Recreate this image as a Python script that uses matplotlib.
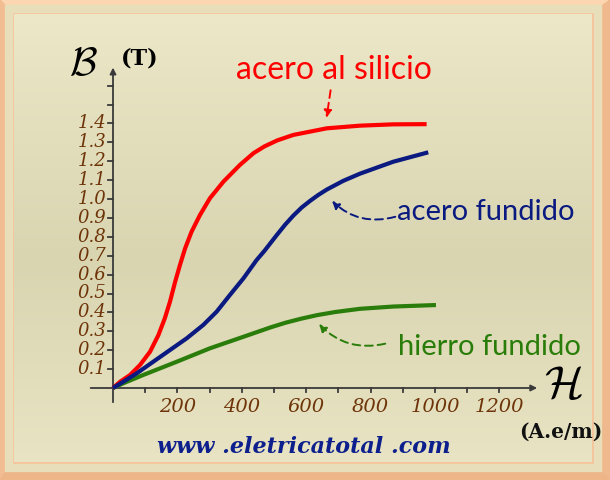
import numpy as np
import matplotlib
matplotlib.use("Agg")
import matplotlib.pyplot as plt
from matplotlib.patches import Rectangle, Polygon

plt.rcParams['mathtext.fontset'] = 'cm'

# ---- data ----
h_silicio = [0, 22, 53, 84, 115, 141, 161, 177, 193, 208, 224, 244, 270, 301, 343, 394,
             436, 470, 510, 560, 664, 767, 870, 974]
b_silicio = [0, 0.033, 0.069, 0.122, 0.192, 0.28, 0.369, 0.457, 0.562, 0.651, 0.739, 0.827,
             0.915, 1.004, 1.092, 1.18, 1.242, 1.278, 1.31, 1.339, 1.374, 1.388, 1.395, 1.396]

h_acero = [0, 32, 74, 125, 177, 229, 280, 322, 363, 405, 446, 470, 508, 535, 560, 586, 612,
           638, 664, 715, 767, 870, 979]
b_acero = [0, 0.033, 0.078, 0.139, 0.201, 0.263, 0.333, 0.404, 0.492, 0.58, 0.677, 0.725,
           0.808, 0.865, 0.912, 0.955, 0.99, 1.022, 1.05, 1.096, 1.134, 1.197, 1.247]

h_hierro = [0, 32, 94, 198, 301, 405, 488, 535, 585, 635, 690, 767, 870, 1003]
b_hierro = [0, 0.025, 0.069, 0.139, 0.21, 0.271, 0.32, 0.345, 0.367, 0.386, 0.402, 0.419,
            0.431, 0.439]

y_ticks = [0.1, 0.2, 0.3, 0.4, 0.5, 0.6, 0.7, 0.8, 0.9, 1.0, 1.1, 1.2, 1.3, 1.4]
y_extra = [1.5, 1.6]
x_ticks = list(range(100, 1300, 100))
x_labels = [200, 400, 600, 800, 1000, 1200]

fig = plt.figure(figsize=(6.1, 4.8), dpi=100)

# ---- background frame ----
bg = fig.add_axes([0, 0, 1, 1])
bg.set_xlim(0, 610)
bg.set_ylim(480, 0)
bg.axis('off')
bg.add_patch(Rectangle((0, 0), 610, 480, color='#f6c49b', zorder=0))
bg.add_patch(Polygon([(0, 0), (610, 0), (598, 9), (9, 9)], color='#fbd6b0', zorder=1))
bg.add_patch(Polygon([(0, 0), (9, 9), (9, 468), (0, 480)], color='#f3bd93', zorder=1))
bg.add_patch(Polygon([(610, 0), (610, 480), (598, 468), (598, 9)], color='#f0b98d', zorder=1))
bg.add_patch(Polygon([(0, 480), (9, 468), (598, 468), (610, 480)], color='#eeb589', zorder=1))
grad = np.linspace(0, 1, 200)[:, None]
grad = 1 - np.abs(grad - 0.55) * 0.9
bg.imshow(grad, extent=(14, 592, 462, 14), cmap=matplotlib.colors.LinearSegmentedColormap.from_list(
    'p', ['#ece8c8', '#d9d5b1']), aspect='auto', zorder=2, vmin=0.5, vmax=1)
bg.add_patch(Rectangle((9, 9), 589, 459, fill=False, ec='#e8dfba', lw=6, zorder=3))

# ---- chart axes ----
ax = fig.add_axes([80.8 / 610, 25.85 / 480, 483 / 610, 415.8 / 480])
ax.set_xlim(-100, 1400)
ax.set_ylim(-0.35, 1.85)
ax.axis('off')
ax.patch.set_alpha(0)

axc = '#3a3a3a'
ax.annotate('', xy=(1326, 0), xytext=(-78, 0),
            arrowprops=dict(arrowstyle='-|>', color=axc, lw=1.3, mutation_scale=9))
ax.annotate('', xy=(0, 1.71), xytext=(0, -0.09),
            arrowprops=dict(arrowstyle='-|>', color=axc, lw=1.3, mutation_scale=9))
for t in y_ticks + y_extra:
    ax.plot([-16, 0], [t, t], color=axc, lw=1.3)
for t in x_ticks:
    ax.plot([t, t], [0, -0.022], color=axc, lw=1.3)

tick_col = '#6e3409'
for t in y_ticks:
    ax.text(-20, t, f'{t:.1f}', ha='right', va='center', fontsize=13,
            family='DejaVu Serif', style='italic', color=tick_col)
for t in x_labels:
    ax.text(t, -0.1, str(t), ha='center', va='center', fontsize=14,
            family='DejaVu Serif', style='italic', color=tick_col)

# ---- curves ----
ax.plot(h_silicio, b_silicio, color='#ff0000', lw=3, solid_capstyle='butt',
        solid_joinstyle='round', zorder=5)
ax.plot(h_acero, b_acero, color='#0a1a80', lw=3, solid_capstyle='butt',
        solid_joinstyle='round', zorder=5)
ax.plot(h_hierro, b_hierro, color='#2a7d0a', lw=3, solid_capstyle='butt',
        solid_joinstyle='round', zorder=4)

# ---- annotations ----
lab_font = 'Lato'
ax.text(686, 1.68, 'acero al silicio', ha='center', va='center', fontsize=23,
        family=lab_font, color='#ff0000')
ax.annotate('', xy=(662, 1.415), xytext=(677, 1.59),
            arrowprops=dict(arrowstyle='-|>', color='#ff0000', lw=1.4, ls=(0, (4, 2.5)),
                            mutation_scale=11))

ax.text(882, 0.93, 'acero fundido', ha='left', va='center', fontsize=21,
        family=lab_font, color='#0a1a80')
ax.annotate('', xy=(674, 1.0), xytext=(885, 0.91),
            arrowprops=dict(arrowstyle='-|>', color='#0a1a80', lw=1.4, ls=(0, (4, 2.5)),
                            mutation_scale=11, connectionstyle='arc3,rad=-0.3'))

ax.text(885, 0.215, 'hierro fundido', ha='left', va='center', fontsize=21,
        family=lab_font, color='#2a7d0a')
ax.annotate('', xy=(634, 0.349), xytext=(854, 0.238),
            arrowprops=dict(arrowstyle='-|>', color='#2a7d0a', lw=1.4, ls=(0, (4, 2.5)),
                            mutation_scale=11, connectionstyle='arc3,rad=-0.3'))

# ---- axis symbols and units ----
bg.text(83, 64, r'$\mathcal{B}$', ha='center', va='center', fontsize=29, color='black')
bg.text(140, 59, '(T)', ha='center', va='center', fontsize=16, family='DejaVu Serif',
        weight='bold', color='black')
bg.text(563, 386, r'$\mathcal{H}$', ha='center', va='center', fontsize=33, color='black')
bg.text(561, 432, '(A.e/m)', ha='center', va='center', fontsize=14.5, family='DejaVu Serif',
        weight='bold', color='#111111')
bg.text(304, 447, 'www .eletricatotal .com', ha='center', va='center', fontsize=16,
        family='DejaVu Serif', weight='bold', style='italic', color='#0d1f8c')

fig.savefig('out.png', dpi=100)
